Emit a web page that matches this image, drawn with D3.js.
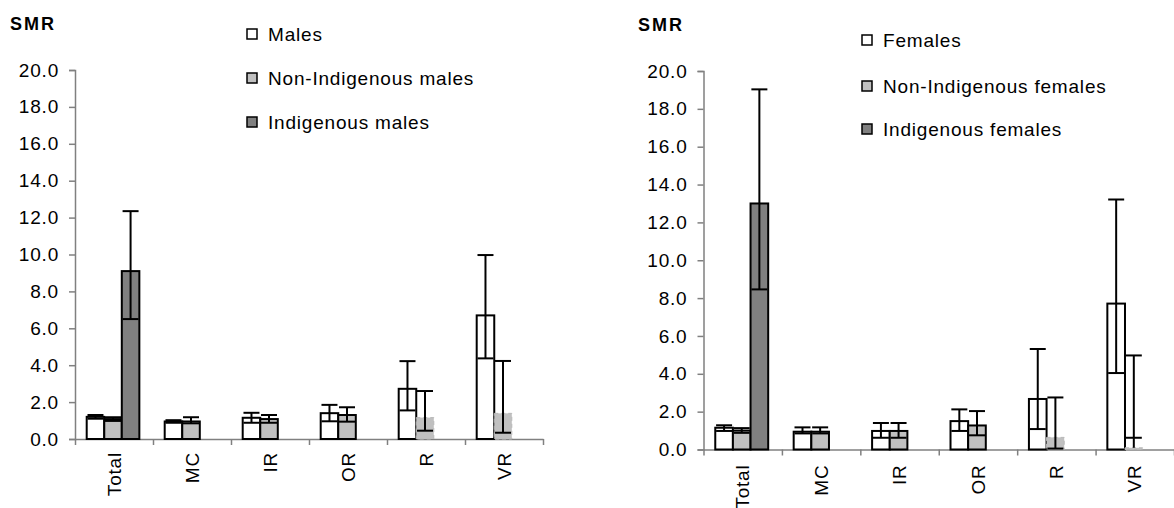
<!DOCTYPE html>
<html lang="en">
<head>
    <meta charset="UTF-8">
    <title>SMR by sex and Indigenous status</title>
    <script src="https://d3js.org/d3.v7.min.js"></script>
    <style>
        body { margin: 0; background: #fff; }
        svg { display: block; font-family: "Liberation Sans", Arial, sans-serif; }
    </style>
</head>
<body>
    <div id="chart"></div>

    <script>
        // categories (remoteness areas)
        const categories = ["Total", "MC", "IR", "OR", "R", "VR"];
        const yTicks = [0, 2, 4, 6, 8, 10, 12, 14, 16, 18, 20];

        // males: value, lower and upper confidence limits
        const males = [1.2, 0.95, 1.15, 1.4, 2.72, 6.7];
        const malesLo = [1.1, 0.88, 0.88, 0.96, 1.55, 4.37];
        const malesHi = [1.3, 1.02, 1.42, 1.85, 4.22, 9.97];
        const nonIndMales = [1.08, 0.95, 1.08, 1.3, 1.16, 1.39];
        const nonIndMalesLo = [0.98, 0.85, 0.88, 0.94, 0.45, 0.34];
        const nonIndMalesHi = [1.18, 1.18, 1.3, 1.72, 2.6, 4.23];
        const indMales = [9.1, null, null, null, null, null];
        const indMalesLo = [6.5, null, null, null, null, null];
        const indMalesHi = [12.35, null, null, null, null, null];

        // females
        const females = [1.15, 0.94, 0.98, 1.5, 2.67, 7.71];
        const femalesLo = [0.98, 0.85, 0.62, 0.98, 1.08, 4.04];
        const femalesHi = [1.28, 1.17, 1.4, 2.12, 5.31, 13.21];
        const nonIndFemales = [1.0, 0.94, 0.98, 1.27, 0.64, 0.09];
        const nonIndFemalesLo = [0.88, 0.85, 0.62, 0.75, 0.05, 0.62];
        const nonIndFemalesHi = [1.13, 1.17, 1.4, 2.03, 2.75, 4.97];
        const indFemales = [13.0, null, null, null, null, null];
        const indFemalesLo = [8.46, null, null, null, null, null];
        const indFemalesHi = [19.03, null, null, null, null, null];

        const fills = ["#ffffff", "#c0c0c0", "#808080"];
        // bars drawn without outline in the original (small counts)
        const faintBars = { 1: ["R", "VR"] };

        const svg = d3.select("#chart")
            .append("svg")
            .attr("width", 1174)
            .attr("height", 508);

        function drawPanel(p) {
            const g = svg.append("g");

            const y = d3.scaleLinear().domain([0, 20]).range([p.y0, p.y20]);
            const x = d3.scaleBand().domain(categories).range([p.x0, p.x1]).padding(0);
            const step = x.step();
            const inner = d3.scaleBand().domain([0, 1, 2])
                .range([step * 0.15, step * 0.825]).padding(0);

            // y axis
            const yAxis = g.append("g")
                .attr("transform", `translate(${p.x0},0)`)
                .call(d3.axisLeft(y).tickValues(yTicks).tickFormat(d3.format(".1f"))
                    .tickSize(6).tickPadding(10));
            yAxis.select(".domain").attr("stroke", "#808080").attr("stroke-width", 1.5);
            yAxis.selectAll(".tick line").attr("stroke", "#808080").attr("stroke-width", 1.5);
            yAxis.selectAll(".tick text")
                .attr("fill", "#000")
                .style("font-size", p.font + "px")
                .style("letter-spacing", "0.8px");

            // x axis (ticks at category boundaries)
            const xb = d3.scaleLinear().domain([0, categories.length]).range([p.x0, p.x1]);
            const xAxis = g.append("g")
                .attr("transform", `translate(0,${p.y0})`)
                .call(d3.axisBottom(xb).ticks(categories.length).tickFormat("").tickSize(6).tickSizeOuter(0));
            xAxis.select(".domain").attr("stroke", "#808080").attr("stroke-width", 1.5);
            xAxis.selectAll(".tick line").attr("stroke", "#808080").attr("stroke-width", 1.5);

            g.selectAll(".cat")
                .data(categories)
                .join("text")
                .attr("class", "cat")
                .attr("transform", d => `translate(${x(d) + step / 2},${p.y0 + p.labelGap}) rotate(-90)`)
                .attr("text-anchor", "end")
                .attr("dy", "0.35em")
                .style("font-size", p.font + "px")
                .style("letter-spacing", "0.8px")
                .text(d => d);

            // bars + error bars
            p.series.forEach((s, si) => {
                const rows = categories.map((c, i) => ({ c, v: s.v[i], lo: s.lo[i], hi: s.hi[i] }))
                    .filter(d => d.v !== null);
                const faint = (faintBars[si] || []);

                g.selectAll(".bar" + si)
                    .data(rows)
                    .join("rect")
                    .attr("x", d => x(d.c) + inner(si))
                    .attr("y", d => y(d.v))
                    .attr("width", inner.bandwidth())
                    .attr("height", d => y(0) - y(d.v))
                    .attr("fill", fills[si])
                    .attr("stroke", d => faint.includes(d.c) ? "#b8b8b8" : "#000")
                    .attr("stroke-dasharray", d => faint.includes(d.c) ? "4,3" : null)
                    .attr("stroke-width", d => faint.includes(d.c) ? 1 : 2);

                const cx = d => x(d.c) + inner(si) + inner.bandwidth() / 2;
                const eb = g.selectAll(".err" + si)
                    .data(rows)
                    .join("g");
                eb.append("line")
                    .attr("x1", cx).attr("x2", cx)
                    .attr("y1", d => y(Math.min(d.lo, d.v)))
                    .attr("y2", d => y(d.hi))
                    .attr("stroke", "#000").attr("stroke-width", 2);
                ["lo", "hi"].forEach(k => {
                    eb.append("line")
                        .attr("x1", d => cx(d) - 8).attr("x2", d => cx(d) + 8)
                        .attr("y1", d => y(d[k])).attr("y2", d => y(d[k]))
                        .attr("stroke", "#000").attr("stroke-width", 2);
                });
            });

            // y title
            g.append("text")
                .attr("x", p.titleX)
                .attr("y", p.titleY)
                .style("font-size", "18px")
                .style("font-weight", "bold")
                .style("letter-spacing", "2px")
                .text("SMR");

            // legend
            const leg = g.selectAll(".leg")
                .data(p.series)
                .join("g")
                .attr("transform", (d, i) => `translate(${p.legX},${p.legY[i]})`);
            leg.append("rect")
                .attr("x", 0).attr("y", -5)
                .attr("width", 10).attr("height", 10)
                .attr("fill", (d, i) => fills[i])
                .attr("stroke", "#000").attr("stroke-width", 1.5);
            leg.append("text")
                .attr("x", 21)
                .attr("dy", "0.35em")
                .style("font-size", p.font + "px")
                .style("letter-spacing", "0.8px")
                .text(d => d.name);
        }

        drawPanel({
            x0: 75, x1: 543, y0: 439, y20: 70, font: 19, labelGap: 13,
            titleX: 10, titleY: 30, legX: 247, legY: [34, 78, 122],
            series: [
                { name: "Males", v: males, lo: malesLo, hi: malesHi },
                { name: "Non-Indigenous males", v: nonIndMales, lo: nonIndMalesLo, hi: nonIndMalesHi },
                { name: "Indigenous males", v: indMales, lo: indMalesLo, hi: indMalesHi }
            ]
        });

        drawPanel({
            x0: 703.5, x1: 1174, y0: 449.5, y20: 71, font: 19, labelGap: 15,
            titleX: 638, titleY: 31, legX: 862, legY: [40, 86, 129],
            series: [
                { name: "Females", v: females, lo: femalesLo, hi: femalesHi },
                { name: "Non-Indigenous females", v: nonIndFemales, lo: nonIndFemalesLo, hi: nonIndFemalesHi },
                { name: "Indigenous females", v: indFemales, lo: indFemalesLo, hi: indFemalesHi }
            ]
        });
    </script>
</body>
</html>
